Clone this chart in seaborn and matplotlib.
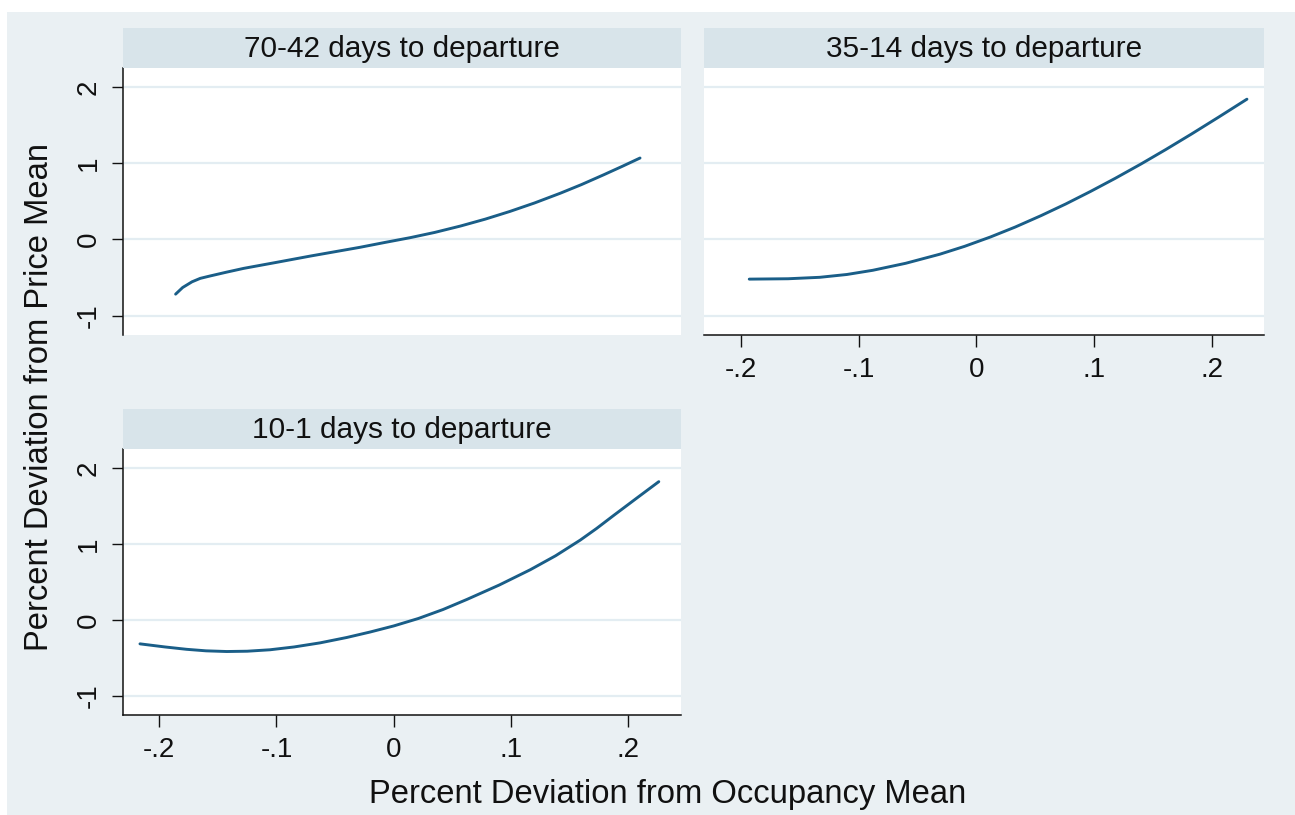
import numpy as np
import pandas as pd
import matplotlib
matplotlib.use("Agg")
import matplotlib.pyplot as plt
import matplotlib.patches as mpatches
import seaborn as sns

# ---------------- data ----------------
panel_titles = ["70-42 days to departure", "35-14 days to departure", "10-1 days to departure"]

x_70_42 = [-0.186, -0.180, -0.172, -0.165, -0.157, -0.143, -0.128, -0.100, -0.071, -0.050,
           -0.029, -0.008, 0.014, 0.035, 0.057, 0.078, 0.099, 0.120, 0.142, 0.160,
           0.179, 0.195, 0.210]
y_70_42 = [-0.717, -0.63, -0.555, -0.51, -0.48, -0.43, -0.379, -0.30, -0.217, -0.16,
           -0.103, -0.04, 0.024, 0.093, 0.177, 0.267, 0.368, 0.479, 0.607, 0.720,
           0.849, 0.961, 1.069]

x_35_14 = [-0.193, -0.160, -0.133, -0.110, -0.088, -0.060, -0.031, -0.010, 0.012, 0.033,
           0.055, 0.076, 0.097, 0.118, 0.140, 0.161, 0.183, 0.206, 0.230]
y_35_14 = [-0.52, -0.515, -0.496, -0.459, -0.404, -0.312, -0.193, -0.090, 0.033, 0.163,
           0.313, 0.466, 0.630, 0.802, 0.991, 1.18, 1.385, 1.606, 1.841]

x_10_1 = [-0.2164, -0.195, -0.1766, -0.160, -0.1424, -0.125, -0.1055, -0.085, -0.0628, -0.040,
          -0.0201, 0.0, 0.021, 0.042, 0.0624, 0.090, 0.1164, 0.138, 0.159, 0.173,
          0.1875, 0.207, 0.226]
y_10_1 = [-0.316, -0.357, -0.388, -0.408, -0.417, -0.413, -0.394, -0.357, -0.303, -0.232,
          -0.160, -0.080, 0.018, 0.136, 0.269, 0.459, 0.660, 0.844, 1.050, 1.204,
          1.375, 1.601, 1.820]

x_ticks = [-0.2, -0.1, 0.0, 0.1, 0.2]
x_tick_labels = ["-.2", "-.1", "0", ".1", ".2"]
y_ticks = [-1, 0, 1, 2]
y_tick_labels = ["-1", "0", "1", "2"]

x_label = "Percent Deviation from Occupancy Mean"
y_label = "Percent Deviation from Price Mean"

# ---------------- style ----------------
sns.set_style("white")
plt.rcParams['font.family'] = ['Liberation Sans', 'DejaVu Sans']

BG = "#EAF0F3"
STRIP = "#D8E4EA"
GRID = "#E3EDF2"
LINE = "#1A5E88"
AX = "#111111"

W, H = 1295, 815
fig = plt.figure(figsize=(W / 100, H / 100), dpi=100)
fig.patch.set_facecolor("white")
fig.patches.append(mpatches.Rectangle((7 / W, -0.05), 1.1, (H - 12) / H + 0.05,
                                      transform=fig.transFigure,
                                      facecolor=BG, edgecolor="none", zorder=-10))

def px_rect(left, top, right, bottom):
    return [left / W, 1 - bottom / H, (right - left) / W, (bottom - top) / H]

panels = [
    dict(rect=px_rect(122.6, 68, 680.5, 335), strip=(28, 68), x=x_70_42, y=y_70_42,
         showx=False, showy=True),
    dict(rect=px_rect(704.3, 68, 1264, 335), strip=(28, 68), x=x_35_14, y=y_35_14,
         showx=True, showy=False),
    dict(rect=px_rect(122.6, 449, 680.5, 715), strip=(409, 449), x=x_10_1, y=y_10_1,
         showx=True, showy=True),
]

XLIM = (-0.2312, 0.2445)
YLIM = (-1.253, 2.25)

for title, p in zip(panel_titles, panels):
    ax = fig.add_axes(p["rect"])
    ax.set_facecolor("white")
    df = pd.DataFrame({"occ": p["x"], "price": p["y"]})
    sns.lineplot(data=df, x="occ", y="price", ax=ax, color=LINE, linewidth=2.1,
                 estimator=None, sort=False, zorder=3)
    ax.set_xlim(*XLIM)
    ax.set_ylim(*YLIM)
    ax.set_xlabel("")
    ax.set_ylabel("")
    ax.set_yticks(y_ticks)
    ax.set_xticks(x_ticks)
    for yv in y_ticks:
        ax.axhline(yv, color=GRID, linewidth=1.6, zorder=1)
    for s in ["top", "right"]:
        ax.spines[s].set_visible(False)
    ax.spines["left"].set_visible(p["showy"])
    ax.spines["bottom"].set_visible(p["showx"])
    for s in ["left", "bottom"]:
        ax.spines[s].set_color(AX)
        ax.spines[s].set_linewidth(1.1)
    if p["showy"]:
        ax.set_yticklabels(y_tick_labels)
        ax.tick_params(axis="y", left=True, length=8, width=1.0, color=AX, pad=7,
                       labelsize=20, labelrotation=90, labelcolor="#111111")
        for lab in ax.get_yticklabels():
            lab.set_va("center")
    else:
        ax.tick_params(axis="y", left=False, labelleft=False)
    if p["showx"]:
        ax.set_xticklabels(x_tick_labels)
        ax.tick_params(axis="x", bottom=True, length=8.5, width=1.0, color=AX, pad=7,
                       labelsize=20, labelcolor="#111111")
    else:
        ax.tick_params(axis="x", bottom=False, labelbottom=False)

    # strip title
    l, b, w, h = p["rect"]
    st_top, st_bot = p["strip"]
    sax = fig.add_axes([l, 1 - st_bot / H, w, (st_bot - st_top) / H])
    sax.set_facecolor(STRIP)
    sax.set_xticks([])
    sax.set_yticks([])
    for s in sax.spines.values():
        s.set_visible(False)
    sax.text(0.5, 0.48, title, ha="center", va="center", fontsize=21.4,
             color="#111111", transform=sax.transAxes)

fig.text(667.5 / W, 1 - 795 / H, x_label, ha="center", va="center", fontsize=23.6,
         color="#111111")
fig.text(40 / W, 1 - 397 / H, y_label, ha="center", va="center", fontsize=23.6,
         rotation=90, color="#111111")

fig.savefig("out.png", dpi=100, facecolor=fig.get_facecolor())
